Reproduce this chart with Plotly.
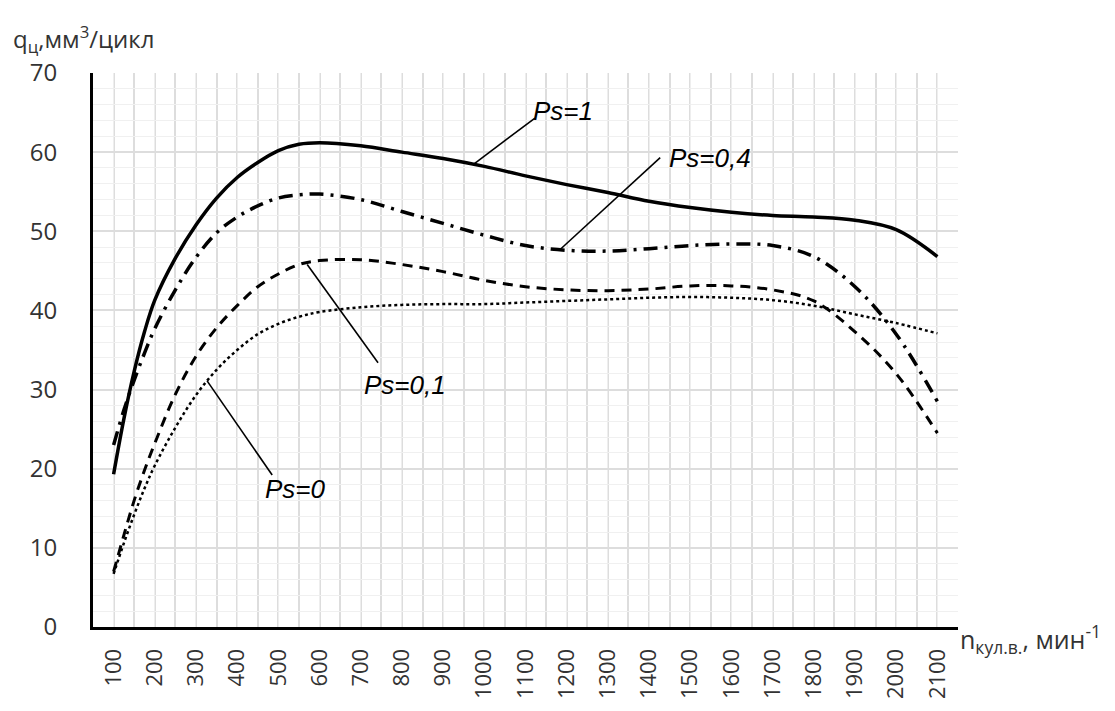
import plotly.graph_objects as go

# Crankshaft speed, min^-1
n_rpm = [100, 125, 150, 175, 200, 250, 300, 350, 400, 450, 500, 550, 600, 700, 800, 900, 1000,
         1100, 1200, 1300, 1400, 1500, 1600, 1700, 1800, 1900, 2000, 2100]

# Cyclic fuel delivery q, mm3/cycle, for each boost ratio Ps
q_ps1 = [19.3, 26.3, 32.3, 37.3, 41.3, 46.6, 50.8, 54.2, 56.8, 58.7, 60.2, 61.0, 61.2, 60.8, 60.0,
         59.2, 58.2, 57.0, 55.9, 54.9, 53.8, 53.0, 52.4, 52.0, 51.8, 51.4, 50.2, 46.8]
q_ps04 = [23.0, 27.4, 31.2, 34.6, 37.7, 42.6, 46.7, 49.8, 51.8, 53.2, 54.2, 54.6, 54.7, 54.0, 52.5,
          51.0, 49.5, 48.2, 47.6, 47.5, 47.8, 48.2, 48.4, 48.2, 46.8, 43.0, 37.0, 28.5]
q_ps01 = [7.0, 11.6, 16.0, 19.8, 23.2, 29.4, 34.2, 37.8, 40.6, 43.0, 44.6, 45.8, 46.3, 46.4, 45.8,
          44.9, 43.8, 43.0, 42.6, 42.5, 42.7, 43.1, 43.1, 42.6, 41.2, 37.3, 32.0, 24.5]
q_ps0 = [6.7, 10.6, 14.2, 17.5, 20.4, 25.2, 29.3, 32.5, 35.0, 37.0, 38.3, 39.2, 39.8, 40.4, 40.7,
         40.8, 40.8, 41.0, 41.2, 41.4, 41.6, 41.7, 41.6, 41.3, 40.6, 39.5, 38.4, 37.1]

x_ticks = list(range(100, 2101, 100))
y_ticks = list(range(0, 71, 10))

# Curve labels: text, text anchor point, leader start (on curve) and end
labels = ["Ps=1", "Ps=0,4", "Ps=0,1", "Ps=0"]
label_pos = [(1113, 65.2), (1443, 59.3), (703, 30.6), (463, 17.5)]
leader_from = [(972, 58.4), (1184, 47.7), (570, 45.8), (327, 31.1)]
leader_to = [(1123, 64.3), (1427, 59.3), (742, 33.4), (485, 19.2)]

fig = go.Figure()

series = [
    (q_ps1, dict(color="black", width=3.5, dash="solid")),
    (q_ps04, dict(color="black", width=3.5, dash="14px,7px,3px,7px")),
    (q_ps01, dict(color="black", width=3, dash="10px,7px")),
    (q_ps0, dict(color="black", width=2.5, dash="dot")),
]
for vals, style in series:
    fig.add_trace(go.Scatter(x=n_rpm, y=vals, mode="lines",
                             line=dict(shape="spline", smoothing=1.0, **style),
                             showlegend=False, hoverinfo="skip"))

for (x0, y0), (x1, y1) in zip(leader_from, leader_to):
    fig.add_trace(go.Scatter(x=[x0, x1], y=[y0, y1], mode="lines",
                             line=dict(color="black", width=1.6),
                             showlegend=False, hoverinfo="skip"))

for txt, (tx, ty) in zip(labels, label_pos):
    fig.add_annotation(x=tx, y=ty, text=f"<i>{txt}</i>", showarrow=False,
                       xanchor="left", yanchor="middle",
                       font=dict(family="Liberation Sans, Arial", size=26, color="black"))

# Axis titles
fig.add_annotation(xref="paper", yref="paper", x=-0.095, y=1.0, yshift=34,
                   text="q<sub>ц</sub>,мм<sup>3</sup>/цикл", showarrow=False,
                   xanchor="left", yanchor="middle",
                   font=dict(family="Open Sans", size=24, color="#333333"))
fig.add_annotation(xref="paper", yref="paper", x=1.0, y=0.0, xshift=0, yshift=-12,
                   text="n<sub>кул.в.</sub>, мин<sup>-1</sup>", showarrow=False,
                   xanchor="left", yanchor="middle",
                   font=dict(family="Open Sans", size=25, color="#333333"))

fig.update_layout(
    width=1115, height=711,
    margin=dict(l=93, r=157, t=73, b=81),
    paper_bgcolor="white", plot_bgcolor="white",
    xaxis=dict(range=[50, 2150], tickvals=x_ticks, ticktext=[str(v) for v in x_ticks],
               tickangle=-90, showgrid=True, gridcolor="#eeeeee", gridwidth=1,
               minor=dict(tick0=50, dtick=50, showgrid=True, gridcolor="#dddddd", gridwidth=1.5),
               showline=True, linecolor="black", linewidth=3, zeroline=False,
               ticks="", ticklabelstandoff=10,
               tickfont=dict(family="Open Sans", size=22, color="#333333")),
    yaxis=dict(range=[0, 70], tickvals=y_ticks, showgrid=True, gridcolor="#dddddd", gridwidth=1.5,
               minor=dict(dtick=2, showgrid=True, gridcolor="#f0f0f0", gridwidth=1),
               showline=True, linecolor="black", linewidth=3, zeroline=False,
               ticks="", ticklabelstandoff=28,
               tickfont=dict(family="Open Sans", size=24, color="#333333")),
)

fig.write_html("out.html")
